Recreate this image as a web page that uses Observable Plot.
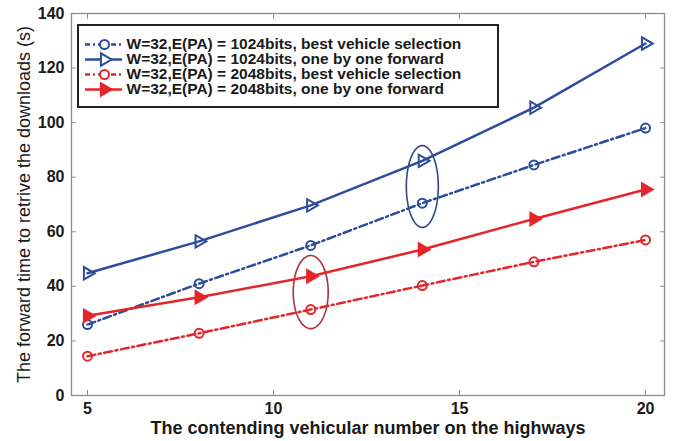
<!DOCTYPE html>
<html>
<head>
<meta charset="utf-8">
<script src="https://cdn.jsdelivr.net/npm/d3@7"></script>
<script src="https://cdn.jsdelivr.net/npm/@observablehq/plot@0.6"></script>
<style>
  html, body { margin: 0; padding: 0; background: #fff; }
  #wrap { position: relative; width: 674px; height: 441px; font-family: "Liberation Sans", Arial, sans-serif; }
  #legend { position: absolute; left: 77px; top: 24px; width: 422px; height: 84px; box-sizing: border-box;
            border: 2px solid #222; background: #fff; }
  #legend svg { display: block; }
</style>
</head>
<body>
<div id="wrap"><div id="legend"></div></div>
<script>
// Contending vehicles on the highway
const vehicles = [5, 8, 11, 14, 17, 20];

// Forward time (s) for each scheme
const best1024   = [26, 41, 55, 70.5, 84.5, 98];
const oneBy1024  = [44.8, 56.5, 69.7, 86, 105.5, 129];
const best2048   = [14.4, 22.8, 31.5, 40.3, 49, 57];
const oneBy2048  = [29.2, 36, 43.7, 53.5, 64.7, 75.5];

const seriesNames = [
  "W=32,E(PA) = 1024bits, best vehicle selection",
  "W=32,E(PA) = 1024bits, one by one forward",
  "W=32,E(PA) = 2048bits, best vehicle selection",
  "W=32,E(PA) = 2048bits, one by one forward"
];

const xTicks = [5, 10, 15, 20];
const yTicks = [0, 20, 40, 60, 80, 100, 120, 140];
const xLabel = "The contending vehicular number on the highways";
const yLabel = "The forward time to retrive the downloads (s)";

const BLUE = "#2d4c9c";
const RED = "#e4262c";
const DASHDOT = "8,3.5,2,3.5";

const series = [
  {name: seriesNames[0], values: best1024,  color: BLUE, dash: DASHDOT, symbol: "circle",   fill: "none"},
  {name: seriesNames[1], values: oneBy1024, color: BLUE, dash: null,    symbol: "triangle", fill: "none"},
  {name: seriesNames[2], values: best2048,  color: RED,  dash: DASHDOT, symbol: "circle",   fill: "none"},
  {name: seriesNames[3], values: oneBy2048, color: RED,  dash: null,    symbol: "triangle", fill: RED}
];

// Ellipse callouts around the compared points (centre and radii in data units)
const callouts = [
  {cx: 14, cy: 76.6, rx: 0.43, ry: 15,   color: "#33478a"},
  {cx: 11, cy: 37.9, rx: 0.47, ry: 13.4, color: "#a8343a"}
];
function ellipsePath(c) {
  return d3.range(0, 361, 4).map(a => {
    const t = a * Math.PI / 180;
    return {x: c.cx + c.rx * Math.cos(t), y: c.cy + c.ry * Math.sin(t)};
  });
}

const seriesMarks = series.flatMap(s => {
  const rows = vehicles.map((v, i) => ({x: v, y: s.values[i]}));
  return [
    Plot.line(rows, {x: "x", y: "y", stroke: s.color, strokeWidth: 2.5, strokeDasharray: s.dash}),
    Plot.dot(rows, {x: "x", y: "y", symbol: s.symbol, r: s.symbol === "circle" ? 4.5 : 4.6,
                    rotate: s.symbol === "triangle" ? 90 : 0,
                    stroke: s.color, strokeWidth: 2, fill: s.fill})
  ];
});

const chart = Plot.plot({
  width: 674,
  height: 441,
  marginLeft: 71,
  marginRight: 10,
  marginTop: 13,
  marginBottom: 46,
  style: {fontFamily: "'Liberation Sans', Arial, sans-serif", background: "#fff", color: "#1a1a1a"},
  x: {domain: [4.57, 20.51]},
  y: {domain: [0, 140]},
  marks: [
    Plot.frame({stroke: "#8c8c8c", strokeWidth: 1.3}),
    Plot.axisX(xTicks, {anchor: "bottom", tickSize: -5, tickPadding: 12, fontSize: 16, fontWeight: "bold", label: null, stroke: "#8c8c8c"}),
    Plot.axisX(xTicks, {anchor: "top", tickSize: -5, tickFormat: () => "", label: null, stroke: "#8c8c8c"}),
    Plot.axisY(yTicks, {anchor: "left", tickSize: -5, tickPadding: 12, fontSize: 16, fontWeight: "bold", label: null, stroke: "#8c8c8c"}),
    Plot.axisY(yTicks, {anchor: "right", tickSize: -5, tickFormat: () => "", label: null, stroke: "#8c8c8c"}),
    ...callouts.map(c => Plot.line(ellipsePath(c), {x: "x", y: "y", stroke: c.color, strokeWidth: 1.6})),
    ...seriesMarks,
    Plot.text([xLabel], {frameAnchor: "bottom", lineAnchor: "middle", textAnchor: "middle", dy: 33, fontSize: 18, fontWeight: "bold", fill: "#1a1a1a"}),
    Plot.text([yLabel], {frameAnchor: "left", lineAnchor: "middle", textAnchor: "middle", dx: -47, rotate: -90, fontSize: 18, fill: "#1a1a1a"})
  ]
});
document.getElementById("wrap").prepend(chart);

// Legend box drawn as a small plot of its own
const legendMarks = series.flatMap(s => {
  const row = [{name: s.name}];
  return [
    Plot.ruleY(row, {y: "name", x1: 6, x2: 43, stroke: s.color, strokeWidth: 2.5, strokeDasharray: s.dash ? "5,3,2,3" : null}),
    Plot.dot(row, {x: () => 25, y: "name", symbol: s.symbol, r: s.symbol === "circle" ? 4.5 : 4.6,
                   rotate: s.symbol === "triangle" ? 90 : 0, stroke: s.color, strokeWidth: 2, fill: s.fill === "none" ? "#fff" : s.fill}),
    Plot.text(row, {x: () => 47, y: "name", text: "name", textAnchor: "start", fontSize: 15.5, fontWeight: "bold", fill: "#1a1a1a"})
  ];
});
const legend = Plot.plot({
  width: 418,
  height: 80,
  margin: 0,
  style: {fontFamily: "'Liberation Sans', Arial, sans-serif", background: "#fff"},
  x: {type: "linear", domain: [0, 418], range: [0, 418], axis: null},
  y: {type: "point", domain: seriesNames, range: [9, 72], axis: null},
  marks: legendMarks
});
document.getElementById("legend").appendChild(legend);
</script>
</body>
</html>
